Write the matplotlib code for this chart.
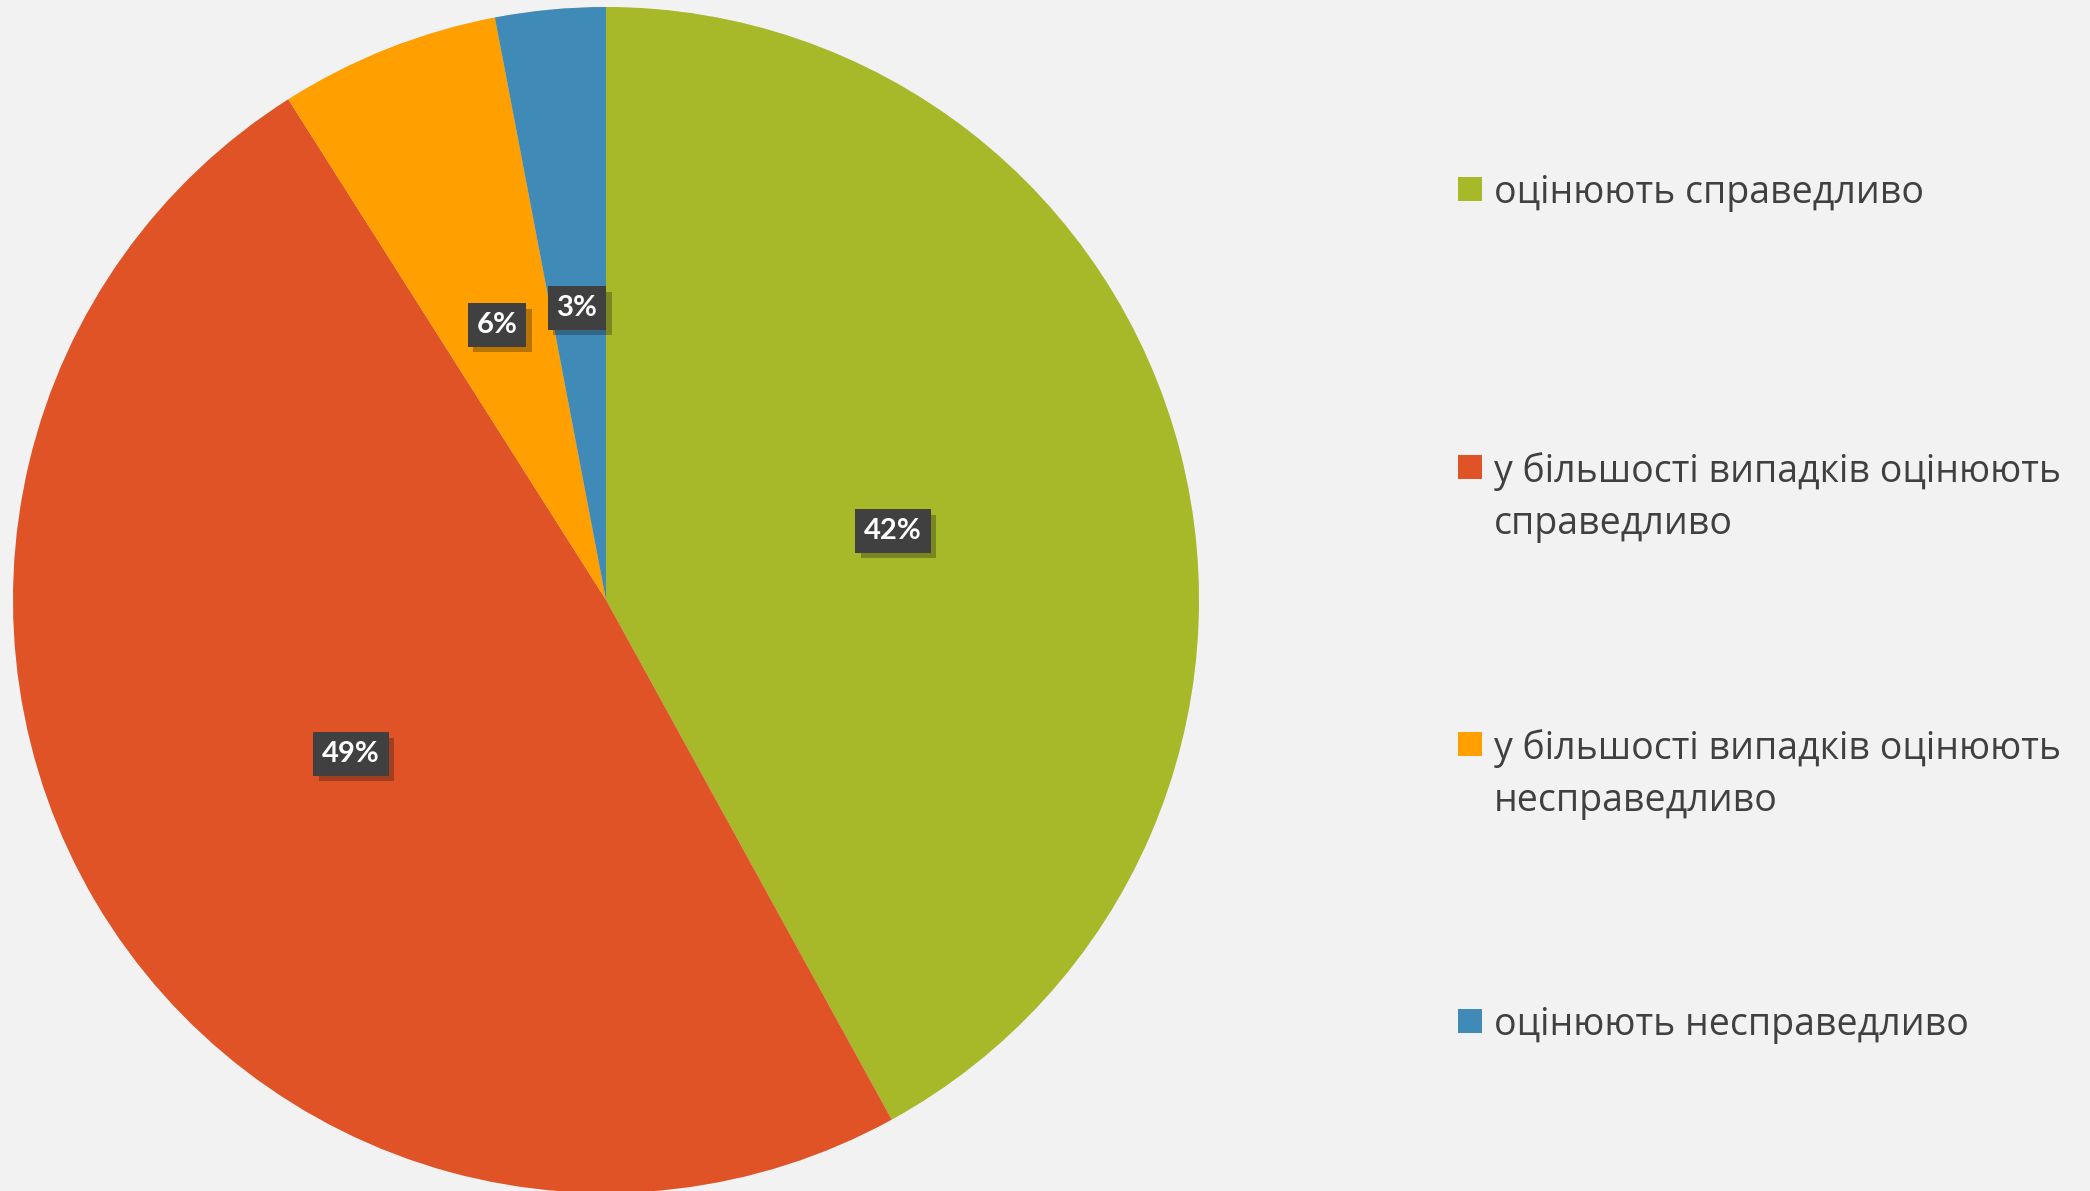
import matplotlib
matplotlib.use("Agg")
import matplotlib.pyplot as plt
import matplotlib.patheffects as pe
from matplotlib.patches import Rectangle

categories = ["оцінюють справедливо",
              "у більшості випадків оцінюють\nсправедливо",
              "у більшості випадків оцінюють\nнесправедливо",
              "оцінюють несправедливо"]
values = [42, 49, 6, 3]
labels = ["42%", "49%", "6%", "3%"]
colors = ["#A7B829", "#E05327", "#FF9F00", "#3F8AB6"]

W, H = 2090, 1191
fig = plt.figure(figsize=(W / 100, H / 100), dpi=100)
fig.patch.set_facecolor("#F2F2F2")

cx, cy, r = 606, 600, 593
ax = fig.add_axes([(cx - r) / W, (H - cy - r) / H, 2 * r / W, 2 * r / H])
ax.set_facecolor("none")
wedges, _ = ax.pie(values, colors=colors, startangle=90, counterclock=False,
                   radius=1.0, wedgeprops=dict(linewidth=0))
for w in wedges:
    w.set_path_effects([pe.SimplePatchShadow(offset=(0, 0), shadow_rgbFace="#000000", alpha=0.08), pe.Normal()])
ax.set_xlim(-1, 1)
ax.set_ylim(-1, 1)
ax.set_aspect("equal")
ax.axis("off")

# label positions (figure pixel coords)
label_pos = [(893, 531), (351, 754), (497, 325), (577, 308)]
for lab, (px, py) in zip(labels, label_pos):
    t = fig.text(px / W, 1 - py / H, lab, ha="center", va="center",
                 fontsize=21, fontweight="bold", color="white", family="Lato",
                 bbox=dict(boxstyle="square,pad=0.3", facecolor="#404040", edgecolor="none"))
    t.get_bbox_patch().set_path_effects([pe.SimplePatchShadow(offset=(4, -4), alpha=0.3), pe.Normal()])

# legend
leg_y = [189, 467, 744, 1021]
sq = 24
for cat, col, ly in zip(categories, colors, leg_y):
    fig.patches.append(Rectangle((1458 / W, 1 - (ly + sq / 2) / H), sq / W, sq / H,
                                 transform=fig.transFigure, facecolor=col, edgecolor="none"))
    fig.text(1494 / W, 1 - (ly - 15) / H, cat, ha="left", va="top",
             fontsize=27, color="#404040", family="Open Sans", linespacing=1.47)

fig.savefig("out.png", dpi=100, facecolor=fig.get_facecolor())
